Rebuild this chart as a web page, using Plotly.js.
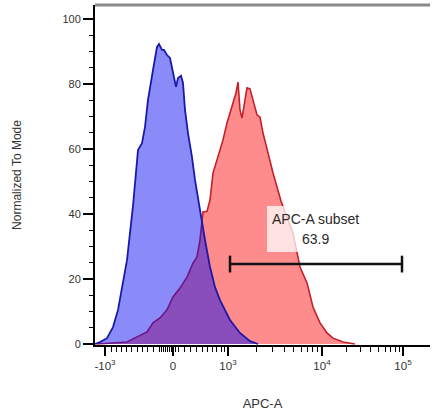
<!DOCTYPE html>
<html>
<head>
<meta charset="utf-8">
<script src="https://cdn.plot.ly/plotly-3.0.1.min.js"></script>
<style>html,body{margin:0;padding:0;background:#fff}#chart{width:433px;height:417px}</style>
</head>
<body>
<div id="chart"></div>
<script>
// x values are biexponential display (channel) positions on the APC-A axis
const blueX = [-78,-73,-66,-60,-55,-50,-46,-43,-40,-35,-31,-28,-25,-20,-16,-14,-11,-9,-6,-3,0,3,5,8,10,12,15,19,22,25,28,32,37,42,47,57,67,77,85];
const blueY = [0,0.6,1.8,5.2,10.5,18.8,25.8,34.2,42.5,59.7,61.8,66.8,75.1,84.3,91.4,92.3,90.5,90.5,88.9,88.0,83.7,79.1,81.8,82.5,80.3,72,64.9,57.5,50.5,44.6,39.7,32,23.7,17.5,13.5,7.4,3.4,0.9,0];

const redX = [-76,-66,-56,-46,-36,-26,-20,-13,-6,0,7,14,20,24,27,30,34,37,40,45,50,54,57,60,63,65,67,69,71,74,77,80,84,87,90,95,100,108,114,120,127,134,140,147,154,160,170,182];
const redY = [0,0.2,0.3,0.6,2.2,3.7,6.5,8,10.5,14.5,17.2,20.6,24.9,26.8,32,40.6,40.8,44.3,52.6,57.5,62.8,68,71,74.2,77.2,80.6,72,69.5,73,78.8,78.5,75,70.5,69.8,64.9,58.8,52.6,44,39,34.2,23.7,18.8,11.4,6.5,3.4,1.8,0.6,0];

// axis ticks (display positions and labels)
const xTickVals = [-68, 0, 55, 149, 230];
const xTickText = ['-10<sup>3</sup>', '0', '10<sup>3</sup>', '10<sup>4</sup>', '10<sup>5</sup>'];
const yTickVals = [0, 20, 40, 60, 80, 100];

// gate
const gateName = 'APC-A subset';
const gateValue = '63.9';
const gateX = [57, 229];
const gateLevel = 24.6;

const xMinor = [-62,-57,-52,-47,-42,-36,-31,-26,-20,-14,-12,-10,-8,-6,-4,-2,2,5,11,17,23,29,34,39,43,48,51];
for (let k = 2; k <= 9; k++) {
  xMinor.push(55 + 94 * Math.log10(k));
  xMinor.push(149 + 81 * Math.log10(k));
}
const yMinor = [];
for (let v = 5; v < 105; v += 5) if (v % 20 !== 0) yMinor.push(v);

const font = 'Liberation Sans, Arial, sans-serif';

const traces = [
  {x: redX, y: redY, type: 'scatter', mode: 'lines', fill: 'tozeroy',
   fillcolor: 'rgba(255,0,0,0.45)', line: {color: '#c4202a', width: 1.6}, hoverinfo: 'skip'},
  {x: blueX, y: blueY, type: 'scatter', mode: 'lines', fill: 'tozeroy',
   fillcolor: 'rgba(10,10,240,0.48)', line: {color: '#1a1aa8', width: 1.8}, hoverinfo: 'skip'},
  {x: gateX, y: [gateLevel, gateLevel], type: 'scatter', mode: 'lines+markers',
   line: {color: '#111', width: 2.5},
   marker: {symbol: 'line-ns', size: 12, line: {color: '#111', width: 2.5}}, hoverinfo: 'skip'}
];

const layout = {
  width: 433, height: 417,
  margin: {l: 95, r: 3, t: 5, b: 72},
  paper_bgcolor: '#fff', plot_bgcolor: '#fff',
  showlegend: false,
  font: {family: font, color: '#333'},
  xaxis: {
    range: [-78, 257], showgrid: false, zeroline: false,
    showline: true, linecolor: '#000', linewidth: 2,
    ticks: 'outside', ticklen: 9, tickwidth: 2, tickcolor: '#000',
    tickmode: 'array', tickvals: xTickVals, ticktext: xTickText,
    tickfont: {family: font, size: 11.5, color: '#333'},
    minor: {tickmode: 'array', tickvals: xMinor, ticks: 'outside', ticklen: 5, tickwidth: 1, tickcolor: '#000'},
    title: {text: 'APC-A', font: {family: font, size: 13, color: '#333'}, standoff: 28}
  },
  yaxis: {
    range: [-0.3, 104.3], showgrid: false, zeroline: false,
    showline: true, linecolor: '#000', linewidth: 2,
    ticks: 'outside', ticklen: 10, tickwidth: 2, tickcolor: '#000',
    tickmode: 'array', tickvals: yTickVals,
    tickfont: {family: font, size: 11, color: '#333'},
    minor: {tickmode: 'array', tickvals: yMinor, ticks: 'outside', ticklen: 4, tickwidth: 1, tickcolor: '#000'},
    title: {text: 'Normalized To Mode', font: {family: font, size: 12, color: '#333'}, standoff: 38}
  },
  shapes: [
    {type: 'line', xref: 'paper', yref: 'paper', x0: 0, x1: 1, y0: 1, y1: 1,
     line: {color: '#8a8a8a', width: 3}},
    {type: 'rect', xref: 'x', yref: 'y', x0: 94, x1: 190, y0: 28.3, y1: 42.5,
     fillcolor: 'rgba(255,255,255,0.75)', line: {width: 0}, layer: 'above'}
  ],
  annotations: [
    {xref: 'x', yref: 'y', x: 142, y: 38.5, text: gateName, showarrow: false,
     font: {family: font, size: 14, color: '#2a2a2a'}},
    {xref: 'x', yref: 'y', x: 142, y: 32.3, text: gateValue, showarrow: false,
     font: {family: font, size: 14, color: '#2a2a2a'}}
  ]
};

Plotly.newPlot('chart', traces, layout, {displayModeBar: false, staticPlot: true});
</script>
</body>
</html>
